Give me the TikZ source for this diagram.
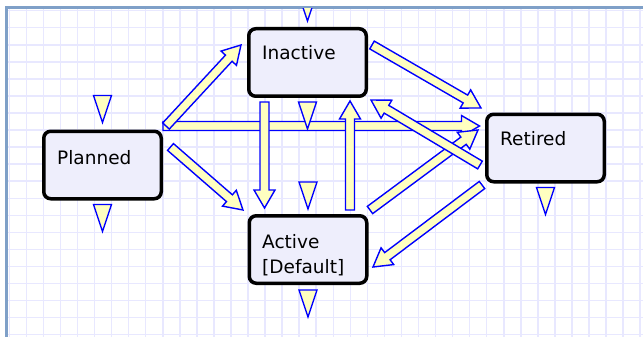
\documentclass[tikz,border=0pt]{standalone}
\usepackage{fontspec}
\setmainfont{DejaVu Sans}
\usetikzlibrary{calc}
\definecolor{gridc}{RGB}{232,232,255}
\definecolor{framec}{RGB}{127,160,200}
\definecolor{boxfill}{RGB}{238,238,252}
\definecolor{arrfill}{RGB}{255,255,192}
\definecolor{arrline}{RGB}{0,0,255}
\tikzset{
  statebox/.style={draw=black, line width=3.5pt, rounded corners=7pt, fill=boxfill,
    minimum width=117.5pt, minimum height=67.5pt, inner sep=0pt},
  lbl/.style={anchor=base west, inner sep=0pt, font=\fontsize{18.5}{22}\selectfont, text=black},
  fatarrow/.style={fill=arrfill, draw=arrline, line width=1.4pt, line join=miter},
  trimk/.style={fill=arrfill, draw=arrline, line width=1.4pt},
  gridline/.style={draw=gridc, line width=1.5pt},
}
% fat arrow from #1 to #2
\newcommand\fatarr[2]{%
  \coordinate (fa-c) at ($(#2)!18pt!(#1)$);
  \filldraw[fatarrow] ($(#1)!4.5pt!90:(#2)$) -- ($(fa-c)!4.5pt!90:(#2)$)
    -- ($(fa-c)!10.5pt!90:(#2)$) -- (#2) -- ($(fa-c)!10.5pt!-90:(#2)$)
    -- ($(fa-c)!4.5pt!-90:(#2)$) -- ($(#1)!4.5pt!-90:(#2)$) -- cycle;
}
% inverted triangle marker: #1 anchor, #2 vertical offset of its top edge
\newcommand\tridn[2]{%
  \filldraw[trimk] ($(#1)+(-9,#2)$) -- ($(#1)+(9,#2)$) -- ($(#1)+(0,#2+27)$) -- cycle;
}
\begin{document}
\begin{tikzpicture}[x=1pt,y=-1pt]
\useasboundingbox (0,0) rectangle (643,337);
\fill[white] (0,0) rectangle (643,337);
\begin{scope}
  \clip (8,9) rectangle (643,337);
  \foreach \k in {0,...,37} \draw[gridline] (9.3+17.05*\k,9) -- (9.3+17.05*\k,337);
  \foreach \k in {0,...,19} \draw[gridline] (8,10.7+17.05*\k) -- (643,10.7+17.05*\k);
\end{scope}
\draw[framec, line width=3pt] (6.5,337) -- (6.5,7.5) -- (643,7.5);

% states
\node[statebox] (pl) at (102.5,165) {};
\node[statebox] (in) at (307.5,62.5) {};
\node[statebox] (ac) at (308,249.5) {};
\node[statebox] (re) at (545.5,148) {};

\node[lbl] (pl-t) at ($(pl)+(-45.5,-1)$) {Planned};
\node[lbl] (in-t) at ($(in)+(-45.5,-2.5)$) {Inactive};
\node[lbl] (ac-t1) at ($(ac)+(-46,-1.5)$) {Active};
\node[lbl] (ac-t2) at ($(ac)+(-46,23.5)$) {[Default]};
\node[lbl] (re-t) at ($(re)+(-45.5,-3)$) {Retired};

% connector end points
\coordinate (pr-s) at ($(pl)+(60.5,-39)$);
\coordinate (pr-e) at ($(re)+(-66,-22)$);
\coordinate (pi-s) at ($(pl)+(63.5,-39)$);
\coordinate (pi-e) at ($(in)+(-66.5,-17.5)$);
\coordinate (pa-s) at ($(pl)+(68,-18)$);
\coordinate (pa-e) at ($(ac)+(-65,-39.5)$);
\coordinate (ia-s) at ($(in)+(-43,39.5)$);
\coordinate (ia-e) at ($(ac)+(-43.5,-41.5)$);
\coordinate (ai-s) at ($(ac)+(42,-39.5)$);
\coordinate (ai-e) at ($(in)+(42.5,38.5)$);
\coordinate (ir-s) at ($(in)+(64.5,-17.5)$);
\coordinate (ir-e) at ($(re)+(-64.5,-40)$);
\coordinate (ri-s) at ($(re)+(-65.5,17)$);
\coordinate (ri-e) at ($(in)+(63.5,37.5)$);
\coordinate (ar-s) at ($(ac)+(62,-39.5)$);
\coordinate (ar-e) at ($(re)+(-67.5,-18)$);
\coordinate (ra-s) at ($(re)+(-63.5,37)$);
\coordinate (ra-e) at ($(ac)+(65,17.5)$);

% transitions
\fatarr{pr-s}{pr-e}
\fatarr{pi-s}{pi-e}
\fatarr{pa-s}{pa-e}
\fatarr{ir-s}{ir-e}
\fatarr{ar-s}{ar-e}
\fatarr{ri-s}{ri-e}
\fatarr{ra-s}{ra-e}
\fatarr{ia-s}{ia-e}
\fatarr{ai-s}{ai-e}

% markers
\tridn{pl.north}{-34}
\tridn{pl.south}{4}
\tridn{in.south}{4}
\tridn{ac.north}{-32}
\tridn{ac.south}{5}
\tridn{re.south}{4}
\begin{scope}
  \clip (8,9) rectangle (643,337);
  \tridn{in.north}{-33}
\end{scope}
\end{tikzpicture}
\end{document}
